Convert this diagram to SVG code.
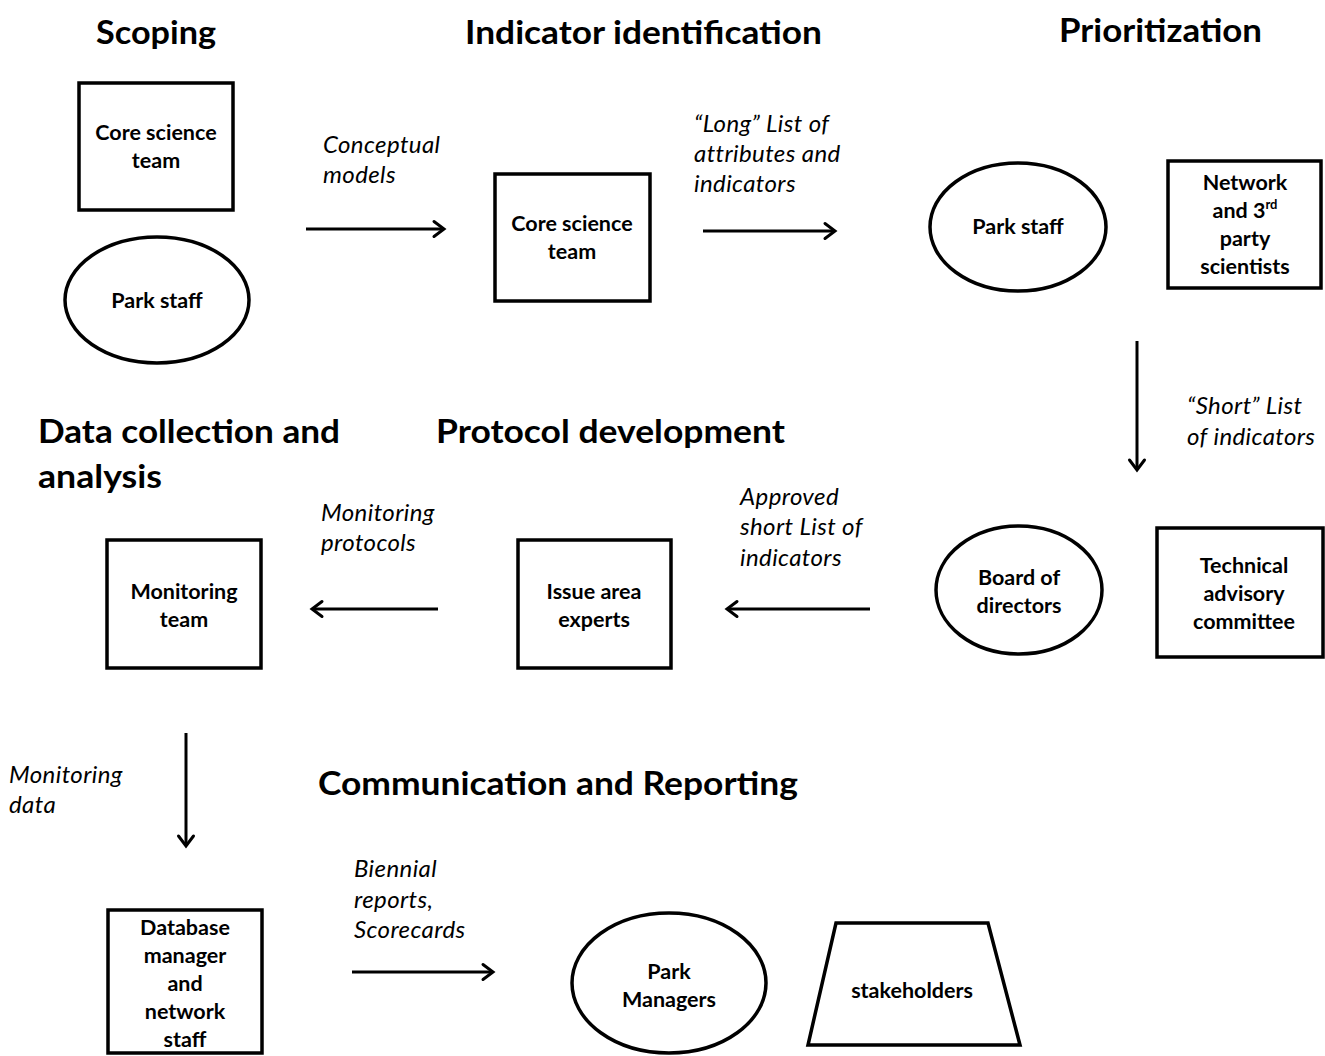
<svg xmlns="http://www.w3.org/2000/svg" width="1325" height="1056" viewBox="0 0 1325 1056">
<defs>
<style>
.title{font-family:Lato,"Liberation Sans",sans-serif;font-weight:bold;font-size:33px;fill:#000}
.node{font-family:Lato,"Liberation Sans",sans-serif;font-weight:bold;font-size:21.5px;fill:#000;text-anchor:middle}
.lbl{font-family:Lato,"Liberation Sans",sans-serif;font-style:italic;font-size:24px;letter-spacing:0.4px;fill:#000}
.shape{fill:#fff;stroke:#000;stroke-width:3.5}
.conn{stroke:#000;stroke-width:3;fill:none}
</style>
<marker id="ah" markerUnits="userSpaceOnUse" markerWidth="20" markerHeight="20" viewBox="0 0 20 20" refX="15" refY="10" orient="auto">
<path d="M5,2.5 L15,10 L5,17.5" fill="none" stroke="#000" stroke-width="3" stroke-linecap="round" stroke-linejoin="miter"/>
</marker>
</defs>
<rect width="1325" height="1056" fill="#fff"/>

<g id="titles">
<text class="title" x="96" y="44" textLength="120" lengthAdjust="spacingAndGlyphs">Scoping</text>
<text class="title" x="465" y="44" textLength="357" lengthAdjust="spacingAndGlyphs">Indicator identification</text>
<text class="title" x="1059" y="42" textLength="203" lengthAdjust="spacingAndGlyphs">Prioritization</text>
<text class="title" x="38" y="443" textLength="302" lengthAdjust="spacingAndGlyphs">Data collection and</text>
<text class="title" x="38" y="488" textLength="124" lengthAdjust="spacingAndGlyphs">analysis</text>
<text class="title" x="436" y="443" textLength="349" lengthAdjust="spacingAndGlyphs">Protocol development</text>
<text class="title" x="318" y="795" textLength="480" lengthAdjust="spacingAndGlyphs">Communication and Reporting</text>
</g>

<g id="connectors">
<line class="conn" x1="306" y1="229" x2="444" y2="229" marker-end="url(#ah)"/>
<line class="conn" x1="703" y1="231" x2="835" y2="231" marker-end="url(#ah)"/>
<line class="conn" x1="1137" y1="341" x2="1137" y2="470" marker-end="url(#ah)"/>
<line class="conn" x1="870" y1="609" x2="727" y2="609" marker-end="url(#ah)"/>
<line class="conn" x1="438" y1="609" x2="312" y2="609" marker-end="url(#ah)"/>
<line class="conn" x1="186" y1="733" x2="186" y2="846" marker-end="url(#ah)"/>
<line class="conn" x1="352" y1="972" x2="493" y2="972" marker-end="url(#ah)"/>
</g>

<g id="labels">
<text class="lbl" x="323" y="153">Conceptual</text>
<text class="lbl" x="323" y="183">models</text>
<text class="lbl" x="694" y="132">“Long” List of</text>
<text class="lbl" x="694" y="162">attributes and</text>
<text class="lbl" x="694" y="192">indicators</text>
<text class="lbl" x="1187" y="414">“Short” List</text>
<text class="lbl" x="1187" y="445">of indicators</text>
<text class="lbl" x="740" y="505">Approved</text>
<text class="lbl" x="740" y="535">short List of</text>
<text class="lbl" x="740" y="566">indicators</text>
<text class="lbl" x="321" y="521">Monitoring</text>
<text class="lbl" x="321" y="551">protocols</text>
<text class="lbl" x="9" y="783">Monitoring</text>
<text class="lbl" x="9" y="813">data</text>
<text class="lbl" x="354" y="877">Biennial</text>
<text class="lbl" x="354" y="908">reports,</text>
<text class="lbl" x="354" y="938">Scorecards</text>
</g>

<g id="scoping-core-team">
<rect class="shape" x="79" y="83" width="154" height="127"/>
<text class="node" x="156" y="140">Core science</text>
<text class="node" x="156" y="168">team</text>
</g>
<g id="scoping-park-staff">
<ellipse class="shape" cx="157" cy="300" rx="92" ry="63"/>
<text class="node" x="157" y="308">Park staff</text>
</g>
<g id="ident-core-team">
<rect class="shape" x="495" y="174" width="155" height="127"/>
<text class="node" x="572" y="231">Core science</text>
<text class="node" x="572" y="259">team</text>
</g>
<g id="prio-park-staff">
<ellipse class="shape" cx="1018" cy="227" rx="88" ry="64"/>
<text class="node" x="1018" y="234">Park staff</text>
</g>
<g id="prio-network">
<rect class="shape" x="1168" y="161" width="153" height="127"/>
<text class="node" x="1245" y="190">Network</text>
<text class="node" x="1245" y="218">and 3<tspan font-size="13" dy="-9">rd</tspan></text>
<text class="node" x="1245" y="246">party</text>
<text class="node" x="1245" y="274">scientists</text>
</g>
<g id="board">
<ellipse class="shape" cx="1019" cy="590" rx="83" ry="64"/>
<text class="node" x="1019" y="585">Board of</text>
<text class="node" x="1019" y="613">directors</text>
</g>
<g id="technical">
<rect class="shape" x="1157" y="528" width="166" height="129"/>
<text class="node" x="1244" y="573">Technical</text>
<text class="node" x="1244" y="601">advisory</text>
<text class="node" x="1244" y="629">committee</text>
</g>
<g id="issue-experts">
<rect class="shape" x="518" y="540" width="153" height="128"/>
<text class="node" x="594" y="599">Issue area</text>
<text class="node" x="594" y="627">experts</text>
</g>
<g id="monitoring-team">
<rect class="shape" x="107" y="540" width="154" height="128"/>
<text class="node" x="184" y="599">Monitoring</text>
<text class="node" x="184" y="627">team</text>
</g>
<g id="database">
<rect class="shape" x="108" y="910" width="154" height="143"/>
<text class="node" x="185" y="935">Database</text>
<text class="node" x="185" y="963">manager</text>
<text class="node" x="185" y="991">and</text>
<text class="node" x="185" y="1019">network</text>
<text class="node" x="185" y="1047">staff</text>
</g>
<g id="park-managers">
<ellipse class="shape" cx="669" cy="983" rx="97" ry="70"/>
<text class="node" x="669" y="979">Park</text>
<text class="node" x="669" y="1007">Managers</text>
</g>
<g id="stakeholders">
<polygon class="shape" points="836,923 988,923 1020,1045 808,1045"/>
<text class="node" x="912" y="998">stakeholders</text>
</g>
</svg>
